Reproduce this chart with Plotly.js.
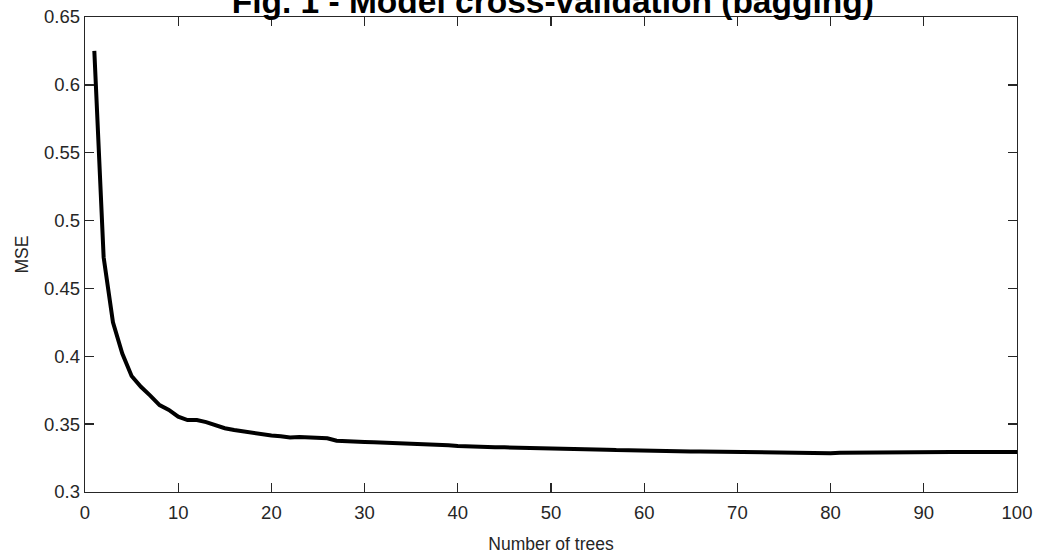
<!DOCTYPE html>
<html>
<head>
<meta charset="utf-8">
<script src="https://cdn.plot.ly/plotly-3.0.1.min.js"></script>
<style>html,body{margin:0;padding:0;background:#fff;}#chart{width:1041px;height:554px;}</style>
</head>
<body>
<div id="chart"></div>
<script>
const numTrees = Array.from({length: 100}, (_, i) => i + 1);
const mse = [
  0.625, 0.473, 0.425, 0.402, 0.3855, 0.3775, 0.371, 0.364, 0.3605, 0.3555,
  0.353, 0.353, 0.3515, 0.3493, 0.347, 0.3457, 0.3446, 0.3434, 0.3422, 0.3416,
  0.3411, 0.3401, 0.3405, 0.3402, 0.3401, 0.3396, 0.3378, 0.3377, 0.3372, 0.3369,
  0.3366, 0.3364, 0.3362, 0.3361, 0.3359, 0.3351, 0.3352, 0.3350, 0.3344, 0.3339,
  0.3335, 0.3331, 0.3330, 0.3330, 0.3329, 0.3328, 0.3328, 0.3327, 0.3326, 0.3325,
  0.3323, 0.3321, 0.3319, 0.3317, 0.3315, 0.3312, 0.3309, 0.3307, 0.3305, 0.3303,
  0.3302, 0.3301, 0.3300, 0.3299, 0.3298, 0.3298, 0.3297, 0.3296, 0.3295, 0.3294,
  0.3291, 0.3289, 0.3290, 0.3289, 0.3288, 0.3289, 0.3290, 0.3290, 0.3288, 0.3286,
  0.3289, 0.3290, 0.3291, 0.3292, 0.3293, 0.3294, 0.3294, 0.3294, 0.3294, 0.3294,
  0.3294, 0.3294, 0.3294, 0.3294, 0.3294, 0.3294, 0.3294, 0.3294, 0.3294, 0.3294
];
const xTicks = [0, 10, 20, 30, 40, 50, 60, 70, 80, 90, 100];
const yTicks = [0.3, 0.35, 0.4, 0.45, 0.5, 0.55, 0.6, 0.65];
const yTickText = ['0.3', '0.35', '0.4', '0.45', '0.5', '0.55', '0.6', '0.65'];
const titleText = 'Fig. 1 - Model cross-validation (bagging)';
const xTitle = 'Number of trees';
const yTitle = 'MSE';

const FONT = 'Arial, "Liberation Sans", sans-serif';
const axisCommon = {
  showgrid: false, zeroline: false, showline: true, mirror: 'ticks',
  linecolor: '#262626', linewidth: 1.3,
  ticks: 'inside', ticklen: 9, tickwidth: 1.3, tickcolor: '#262626',
  tickfont: {family: FONT, size: 18.5, color: '#262626'}
};
const layout = {
  width: 1041, height: 554,
  margin: {l: 84.5, r: 24, t: 17, b: 62},
  paper_bgcolor: '#fff', plot_bgcolor: '#fff',
  showlegend: false,
  title: {text: '<b>' + titleText + '</b>', font: {family: FONT, size: 33.5, color: '#000'},
          x: 0.531, xanchor: 'center', y: 0.998, yref: 'container', yanchor: 'middle', pad: {t: 0, b: 0}},
  xaxis: Object.assign({}, axisCommon, {
    range: [0, 100], tickvals: xTicks, ticktext: xTicks.map(String), ticklabelstandoff: 3,
    title: {text: xTitle, font: {family: FONT, size: 17.5, color: '#262626'}, standoff: 17}
  }),
  yaxis: Object.assign({}, axisCommon, {
    range: [0.3, 0.65], tickvals: yTicks, ticktext: yTickText,
    title: {text: yTitle, font: {family: FONT, size: 17.5, color: '#262626'}, standoff: 11}
  })
};
const trace = {
  x: numTrees, y: mse, type: 'scatter', mode: 'lines',
  line: {color: '#000', width: 4}, hoverinfo: 'skip'
};
Plotly.newPlot('chart', [trace], layout, {displayModeBar: false, staticPlot: true});
</script>
</body>
</html>
